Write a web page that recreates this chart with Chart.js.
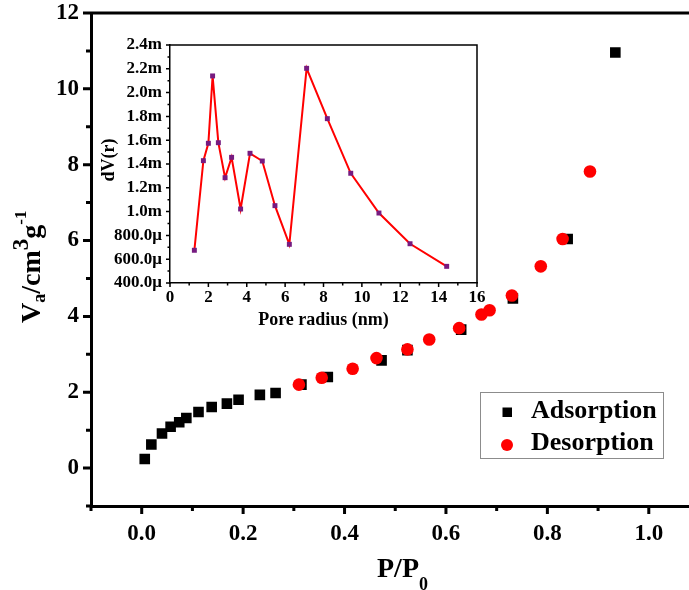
<!DOCTYPE html>
<html>
<head>
<meta charset="utf-8">
<script src="https://cdn.jsdelivr.net/npm/chart.js@4.4.1/dist/chart.umd.min.js"></script>
<style>
  html, body { margin: 0; padding: 0; overflow: hidden; background: #fff; }
  #wrap { position: relative; width: 689px; height: 590px; overflow: hidden; }
  #wrap canvas { position: absolute; left: 0; top: 0; }
</style>
</head>
<body>
<div id="wrap">
  <canvas id="isotherm" width="707" height="590"></canvas>
  <canvas id="poreDist" width="500" height="330"></canvas>
</div>
<script>
// N2 isotherm, relative pressure P/P0 vs adsorbed volume
var adsP = [0.006, 0.019, 0.040, 0.057, 0.074, 0.088, 0.112, 0.138, 0.168, 0.191, 0.233, 0.264,
            0.315, 0.367, 0.473, 0.524, 0.630, 0.732, 0.840, 0.934];
var adsV = [0.24, 0.62, 0.91, 1.09, 1.21, 1.32, 1.48, 1.61, 1.70, 1.80, 1.93, 1.98,
            2.20, 2.40, 2.84, 3.11, 3.65, 4.47, 6.04, 10.96];
var desP = [0.310, 0.355, 0.416, 0.463, 0.524, 0.567, 0.626, 0.670, 0.686, 0.730, 0.787, 0.830, 0.884];
var desV = [2.20, 2.38, 2.62, 2.90, 3.13, 3.39, 3.69, 4.05, 4.16, 4.55, 5.32, 6.04, 7.82];

// pore size distribution (inset)
var poreR = [1.27, 1.74, 2.00, 2.22, 2.52, 2.87, 3.21, 3.68, 4.17, 4.81, 5.47, 6.22,
             7.12, 8.20, 9.42, 10.89, 12.51, 14.42];
var poreDV = [0.675e-3, 1.428e-3, 1.574e-3, 2.140e-3, 1.579e-3, 1.285e-3, 1.456e-3, 1.022e-3,
              1.490e-3, 1.425e-3, 1.050e-3, 0.725e-3, 2.204e-3, 1.781e-3, 1.322e-3, 0.988e-3,
              0.730e-3, 0.540e-3];

var serif = '"Liberation Serif", "Times New Roman", serif';

function pts(xs, ys) {
  return xs.map(function (x, i) { return { x: x, y: ys[i] }; });
}

// fixed axis box sizes, no extra room for overhanging labels
function fitX(h) {
  return function (s) { s.height = h; s.paddingLeft = 0; s.paddingRight = 0; };
}
function fitY(w) {
  return function (s) { s.width = w; s.paddingTop = 0; s.paddingBottom = 0; };
}

// text with sub/superscripts, runs: [text, size, baseline shift]
function drawRuns(ctx, runs, x, y) {
  runs.forEach(function (r) {
    ctx.font = 'bold ' + r[1] + 'px ' + serif;
    ctx.fillText(r[0], x, y + r[2]);
    x += ctx.measureText(r[0]).width;
  });
}

// top/right frame lines plus major and minor ticks on bottom/left
var frameTicks = {
  id: 'frameTicks',
  afterDraw: function (chart, args, o) {
    var ctx = chart.ctx, a = chart.chartArea;
    var xs = chart.scales.x, ys = chart.scales.y;
    ctx.save();
    ctx.strokeStyle = '#000';
    ctx.lineWidth = o.width;
    ctx.beginPath();
    ctx.moveTo(a.left, a.top);
    ctx.lineTo(a.right, a.top);
    ctx.lineTo(a.right, a.bottom);
    ctx.stroke();
    ctx.beginPath();
    var k, p, len;
    for (k = Math.round(xs.min / o.xStep); k <= Math.round(xs.max / o.xStep); k++) {
      p = xs.getPixelForValue(k * o.xStep);
      len = k % 2 === 0 ? o.major : o.minor;
      ctx.moveTo(p, a.bottom);
      ctx.lineTo(p, a.bottom + len);
    }
    for (k = Math.round(ys.min / o.yStep); k <= Math.round(ys.max / o.yStep); k++) {
      p = ys.getPixelForValue(k * o.yStep);
      len = k % 2 === 0 ? o.major : o.minor;
      ctx.moveTo(a.left, p);
      ctx.lineTo(a.left - len, p);
    }
    ctx.stroke();
    ctx.restore();
  }
};

// axis titles and legend of the isotherm
var isoLabels = {
  id: 'isoLabels',
  afterDraw: function (chart) {
    var ctx = chart.ctx;
    var ds = chart.data.datasets;
    ctx.save();
    ctx.fillStyle = '#000';
    ctx.textBaseline = 'alphabetic';
    ctx.textAlign = 'left';
    drawRuns(ctx, [['P/P', 28, 0], ['0', 18, 13]], 377, 577);

    ctx.save();
    ctx.translate(40, 323);
    ctx.rotate(-Math.PI / 2);
    drawRuns(ctx, [['V', 28, 0], ['a', 18, 5], ['/cm', 28, 0], ['3', 23, -12], ['g', 28, 0], ['-1', 17, -14]], 0, 0);
    ctx.restore();

    ctx.strokeStyle = '#8c8c8c';
    ctx.lineWidth = 1;
    ctx.strokeRect(480.5, 392.5, 183, 66);
    ctx.fillStyle = ds[0].backgroundColor;
    ctx.fillRect(502.5, 407.5, 9.5, 9.5);
    ctx.fillStyle = ds[1].backgroundColor;
    ctx.beginPath();
    ctx.arc(507, 445, 6, 0, Math.PI * 2);
    ctx.fill();
    ctx.fillStyle = '#000';
    ctx.font = 'bold 26px ' + serif;
    ctx.fillText(ds[0].label, 531, 418);
    ctx.fillText(ds[1].label, 531, 450);
    ctx.restore();
  }
};

var poreLabels = {
  id: 'poreLabels',
  afterDraw: function (chart) {
    var ctx = chart.ctx, a = chart.chartArea;
    ctx.save();
    ctx.fillStyle = '#000';
    ctx.font = 'bold 18px ' + serif;
    ctx.textAlign = 'center';
    ctx.textBaseline = 'alphabetic';
    ctx.fillText('Pore radius (nm)', (a.left + a.right) / 2, 325);
    ctx.translate(114, 160);
    ctx.rotate(-Math.PI / 2);
    ctx.fillText('dV(r)', 0, 0);
    ctx.restore();
  }
};

new Chart(document.getElementById('isotherm'), {
  type: 'scatter',
  data: {
    datasets: [
      {
        label: 'Adsorption',
        data: pts(adsP, adsV),
        pointStyle: 'rect',
        pointRadius: 7.5,
        backgroundColor: '#000000',
        borderColor: '#000000',
        borderWidth: 0,
        order: 2
      },
      {
        label: 'Desorption',
        data: pts(desP, desV),
        pointStyle: 'circle',
        pointRadius: 6.3,
        backgroundColor: '#ff0000',
        borderColor: '#ff0000',
        borderWidth: 0,
        order: 1
      }
    ]
  },
  options: {
    responsive: false,
    animation: false,
    events: [],
    layout: { padding: { top: 13, right: 3, left: 0, bottom: 0 } },
    plugins: {
      legend: { display: false },
      tooltip: { enabled: false },
      frameTicks: { width: 3, major: 8, minor: 5, xStep: 0.1, yStep: 1 }
    },
    scales: {
      x: {
        type: 'linear',
        min: -0.1,
        max: 1.1,
        afterFit: fitX(84),
        grid: { display: false, drawTicks: false },
        border: { color: '#000', width: 3 },
        ticks: {
          stepSize: 0.1,
          autoSkip: false,
          maxRotation: 0,
          padding: 14,
          color: '#000',
          font: { family: serif, size: 23, weight: 'bold' },
          callback: function (v) {
            var k = Math.round(v * 10);
            return k % 2 === 0 ? (k / 10).toFixed(1) : '';
          }
        }
      },
      y: {
        min: -1,
        max: 12,
        afterFit: fitY(91),
        grid: { display: false, drawTicks: false },
        border: { color: '#000', width: 3 },
        ticks: {
          stepSize: 1,
          autoSkip: false,
          padding: 12,
          color: '#000',
          font: { family: serif, size: 23, weight: 'bold' },
          callback: function (v) { return v % 2 === 0 ? String(v) : ''; }
        }
      }
    }
  },
  plugins: [frameTicks, isoLabels]
});

new Chart(document.getElementById('poreDist'), {
  type: 'scatter',
  data: {
    datasets: [{
      data: pts(poreR, poreDV),
      showLine: true,
      borderColor: '#ff0000',
      borderWidth: 2,
      tension: 0,
      pointStyle: 'rect',
      pointRadius: 3.5,
      pointBackgroundColor: '#761b80',
      pointBorderWidth: 0
    }]
  },
  options: {
    responsive: false,
    animation: false,
    events: [],
    layout: { padding: { top: 45, right: 23, left: 0, bottom: 0 } },
    plugins: {
      legend: { display: false },
      tooltip: { enabled: false },
      frameTicks: { width: 1.5, major: 4, minor: 2.5, xStep: 1, yStep: 0.0001 }
    },
    scales: {
      x: {
        type: 'linear',
        min: 0,
        max: 16,
        afterFit: fitX(47),
        grid: { display: false, drawTicks: false },
        border: { color: '#000', width: 1.5 },
        ticks: {
          stepSize: 2,
          autoSkip: false,
          maxRotation: 0,
          padding: 4,
          color: '#000',
          font: { family: serif, size: 17, weight: 'bold' }
        }
      },
      y: {
        min: 0.0004,
        max: 0.0024,
        afterFit: fitY(170),
        grid: { display: false, drawTicks: false },
        border: { color: '#000', width: 1.5 },
        ticks: {
          stepSize: 0.0002,
          autoSkip: false,
          padding: 8,
          color: '#000',
          font: { family: serif, size: 17, weight: 'bold' },
          callback: function (v) {
            var k = Math.round(v * 1e4);
            return k < 10 ? (k * 100).toFixed(1) + 'μ' : (k / 10).toFixed(1) + 'm';
          }
        }
      }
    }
  },
  plugins: [frameTicks, poreLabels]
});
</script>
</body>
</html>
